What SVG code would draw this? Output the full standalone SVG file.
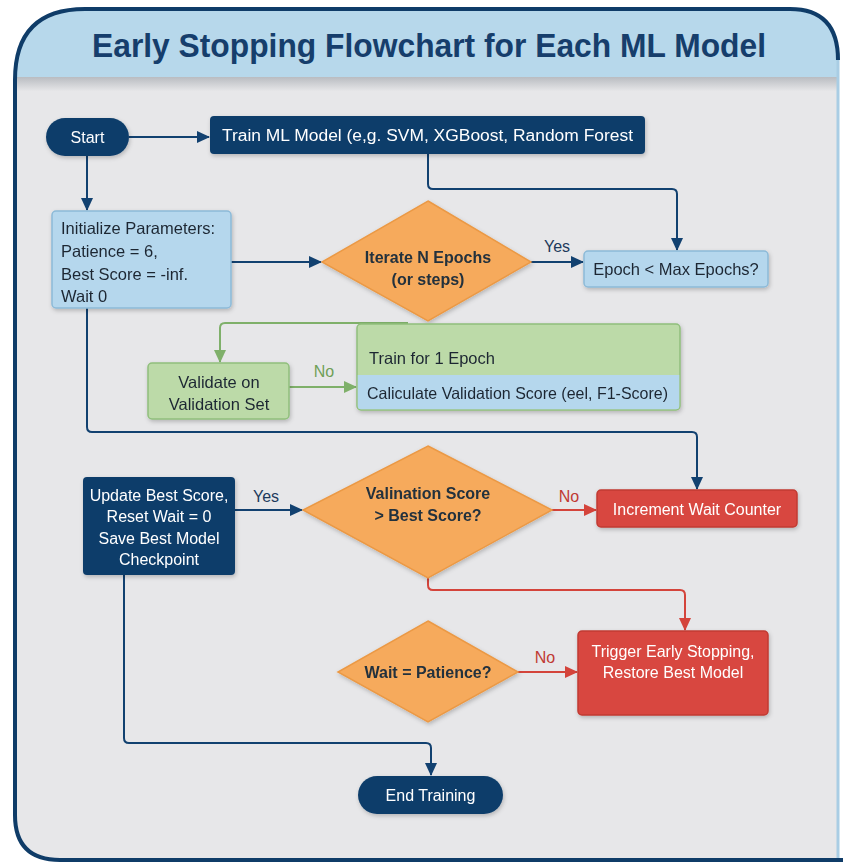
<svg xmlns="http://www.w3.org/2000/svg" width="843" height="865" viewBox="0 0 843 865">
  <defs>
    <style>
      text { font-family: "Liberation Sans", Arial, sans-serif; }
      .title { font-size: 33px; font-weight: bold; fill: #163e6c; }
      .wt { fill: #ffffff; font-size: 16px; }
      .dk { fill: #1d2733; font-size: 16.5px; }
      .dia { fill: #23303d; font-size: 16px; font-weight: bold; }
      .lbl { font-size: 16px; }
      .navy { fill: #0f3e6b; }
      .blue { fill: #b5d7ed; stroke: #8cbad8; stroke-width: 1.5; }
      .green { fill: #bcdaa8; stroke: #90bf7c; stroke-width: 1.5; }
      .red { fill: #d8473f; stroke: #c13a33; stroke-width: 1.5; }
      .orange { fill: #f6aa5c; stroke: #eb9945; stroke-width: 1.5; }
      .c-navy { fill: none; stroke: #124170; stroke-width: 2; }
      .c-green { fill: none; stroke: #7fb06a; stroke-width: 2; }
      .c-red { fill: none; stroke: #d4443b; stroke-width: 2; }
    </style>
    <marker id="ah-navy" markerWidth="13" markerHeight="12" refX="12" refY="6" orient="auto" markerUnits="userSpaceOnUse">
      <path d="M0,0 L13,6 L0,12 Z" fill="#124170"/>
    </marker>
    <marker id="ah-green" markerWidth="13" markerHeight="12" refX="12" refY="6" orient="auto" markerUnits="userSpaceOnUse">
      <path d="M0,0 L13,6 L0,12 Z" fill="#7fb06a"/>
    </marker>
    <marker id="ah-red" markerWidth="13" markerHeight="12" refX="12" refY="6" orient="auto" markerUnits="userSpaceOnUse">
      <path d="M0,0 L13,6 L0,12 Z" fill="#d4443b"/>
    </marker>
    <filter id="shadow" x="-20%" y="-20%" width="140%" height="150%">
      <feDropShadow dx="1" dy="2" stdDeviation="2" flood-color="#000000" flood-opacity="0.22"/>
    </filter>
    <linearGradient id="hdrShade" x1="0" y1="0" x2="0" y2="1">
      <stop offset="0" stop-color="#b9bcc1"/>
      <stop offset="1" stop-color="#e6e6e8"/>
    </linearGradient>
    <clipPath id="frameClip">
      <path d="M15,80 Q15,9 85,9 L790,9 Q838,9 838,60 L838,860 L60,860 Q15,860 15,815 Z"/>
    </clipPath>
  </defs>

  <rect width="843" height="865" fill="#ffffff"/>

  <!-- frame and title band -->
  <g id="frame">
    <g clip-path="url(#frameClip)">
      <rect x="0" y="0" width="843" height="865" fill="#e7e7e9"/>
      <rect x="0" y="0" width="843" height="77" fill="#b7d8eb"/>
      <rect x="0" y="77" width="843" height="14" fill="url(#hdrShade)"/>
    </g>
    <path d="M15,80 Q15,9 85,9 L790,9 Q838,9 838,60" fill="none" stroke="#0f3c68" stroke-width="4"/>
    <path d="M838,60 L838,860" fill="none" stroke="#a9cde4" stroke-width="3"/>
    <path d="M15,80 L15,815 Q15,860 60,860 L843,860" fill="none" stroke="#0f3c68" stroke-width="4"/>
    <text class="title" x="92" y="57" textLength="674" lengthAdjust="spacingAndGlyphs">Early Stopping Flowchart for Each ML Model</text>
  </g>

  <!-- connectors -->
  <g id="connectors">
    <path class="c-navy" d="M129,137 L209,137" marker-end="url(#ah-navy)"/>
    <path class="c-navy" d="M87,156 L87,210" marker-end="url(#ah-navy)"/>
    <path class="c-navy" d="M428,154 L428,184 Q428,189 433,189 L672,189 Q677,189 677,194 L677,250" marker-end="url(#ah-navy)"/>
    <path class="c-navy" d="M231,262 L321,262" marker-end="url(#ah-navy)"/>
    <path class="c-navy" d="M531,262 L583,262" marker-end="url(#ah-navy)"/>
    <text class="lbl" x="557" y="252" text-anchor="middle" fill="#1c3a5c">Yes</text>

    <path class="c-green" d="M408,323 L225,323 Q220,323 220,328 L220,362" marker-end="url(#ah-green)"/>
    <path class="c-green" d="M289,387 L356,387" marker-end="url(#ah-green)"/>
    <text class="lbl" x="324" y="377" text-anchor="middle" fill="#6f9f57">No</text>

    <path class="c-navy" d="M87,308 L87,427 Q87,432 92,432 L692,432 Q697,432 697,437 L697,489" marker-end="url(#ah-navy)"/>

    <path class="c-navy" d="M235,510 L302,510" marker-end="url(#ah-navy)"/>
    <text class="lbl" x="266" y="502" text-anchor="middle" fill="#1c3a5c">Yes</text>
    <path class="c-red" d="M552,510 L596,510" marker-end="url(#ah-red)"/>
    <text class="lbl" x="569" y="502" text-anchor="middle" fill="#c03a33">No</text>

    <path class="c-red" d="M428,578 L428,585 Q428,590 433,590 L680,590 Q685,590 685,595 L685,630" marker-end="url(#ah-red)"/>

    <path class="c-red" d="M518,672 L577,672" marker-end="url(#ah-red)"/>
    <text class="lbl" x="545" y="663" text-anchor="middle" fill="#c03a33">No</text>

    <path class="c-navy" d="M124,575 L124,738 Q124,743 129,743 L426,743 Q431,743 431,748 L431,775" marker-end="url(#ah-navy)"/>
  </g>

  <!-- nodes -->
  <g id="start" filter="url(#shadow)">
    <rect class="navy" x="46" y="118" width="83" height="38" rx="19"/>
    <text class="wt" x="87.5" y="143" text-anchor="middle">Start</text>
  </g>

  <g id="train-model" filter="url(#shadow)">
    <rect class="navy" x="210" y="116" width="435" height="38" rx="4"/>
    <text class="wt" x="222" y="141" font-size="16.5" textLength="411" lengthAdjust="spacingAndGlyphs">Train ML Model (e,g. SVM, XGBoost, Random Forest</text>
  </g>

  <g id="init-params" filter="url(#shadow)">
    <rect class="blue" x="52" y="211" width="179" height="97" rx="4"/>
    <text class="dk" x="61" y="234">Initialize Parameters:</text>
    <text class="dk" x="61" y="257">Patience = 6,</text>
    <text class="dk" x="61" y="280">Best Score = -inf.</text>
    <text class="dk" x="61" y="302">Wait 0</text>
  </g>

  <g id="iterate" filter="url(#shadow)">
    <polygon class="orange" points="428,201 531,262 428,321 322,262"/>
    <text class="dia" x="428" y="263" text-anchor="middle">Iterate N Epochs</text>
    <text class="dia" x="428" y="285" text-anchor="middle">(or steps)</text>
  </g>

  <g id="epoch-check" filter="url(#shadow)">
    <rect class="blue" x="584" y="251" width="184" height="36" rx="4"/>
    <text class="dk" x="676" y="275" text-anchor="middle">Epoch &lt; Max Epochs?</text>
  </g>

  <g id="validate" filter="url(#shadow)">
    <rect class="green" x="148" y="363" width="141" height="56" rx="4"/>
    <text class="dk" x="219" y="388" text-anchor="middle">Validate on</text>
    <text class="dk" x="219" y="410" text-anchor="middle">Validation Set</text>
  </g>

  <g id="train-epoch" filter="url(#shadow)">
    <rect class="green" x="357" y="324" width="323" height="86" rx="4"/>
    <path d="M357.75,375 L679.25,375 L679.25,406 Q679.25,409.25 676,409.25 L361,409.25 Q357.75,409.25 357.75,406 Z" fill="#b5d7ed"/>
    <text class="dk" x="369" y="364">Train for 1 Epoch</text>
    <text class="dk" x="367" y="399" textLength="301" lengthAdjust="spacingAndGlyphs">Caliculate Validation Score (eel, F1-Score)</text>
  </g>

  <g id="update-best" filter="url(#shadow)">
    <rect class="navy" x="83" y="477" width="152" height="98" rx="4"/>
    <text class="wt" x="159" y="501" text-anchor="middle">Update Best Score,</text>
    <text class="wt" x="159" y="522" text-anchor="middle">Reset Wait = 0</text>
    <text class="wt" x="159" y="544" text-anchor="middle">Save Best Model</text>
    <text class="wt" x="159" y="565" text-anchor="middle">Checkpoint</text>
  </g>

  <g id="score-check" filter="url(#shadow)">
    <polygon class="orange" points="428,446 552,510 428,578 303,510"/>
    <text class="dia" x="428" y="499" text-anchor="middle">Valination Score</text>
    <text class="dia" x="428" y="521" text-anchor="middle">&gt; Best Score?</text>
  </g>

  <g id="increment-wait" filter="url(#shadow)">
    <rect class="red" x="597" y="490" width="200" height="37" rx="4"/>
    <text class="wt" x="697" y="515" text-anchor="middle" font-size="16.5">Increment Wait Counter</text>
  </g>

  <g id="patience-check" filter="url(#shadow)">
    <polygon class="orange" points="428,621 518,672 428,722 338,672"/>
    <text class="dia" x="428" y="678" text-anchor="middle">Wait = Patience?</text>
  </g>

  <g id="early-stop" filter="url(#shadow)">
    <rect class="red" x="578" y="631" width="190" height="84" rx="4"/>
    <text class="wt" x="673" y="657" text-anchor="middle">Trigger Early Stopping,</text>
    <text class="wt" x="673" y="678" text-anchor="middle">Restore Best Model</text>
  </g>

  <g id="end" filter="url(#shadow)">
    <rect class="navy" x="358" y="776" width="145" height="38" rx="19"/>
    <text class="wt" x="430.5" y="801" text-anchor="middle">End Training</text>
  </g>
</svg>
